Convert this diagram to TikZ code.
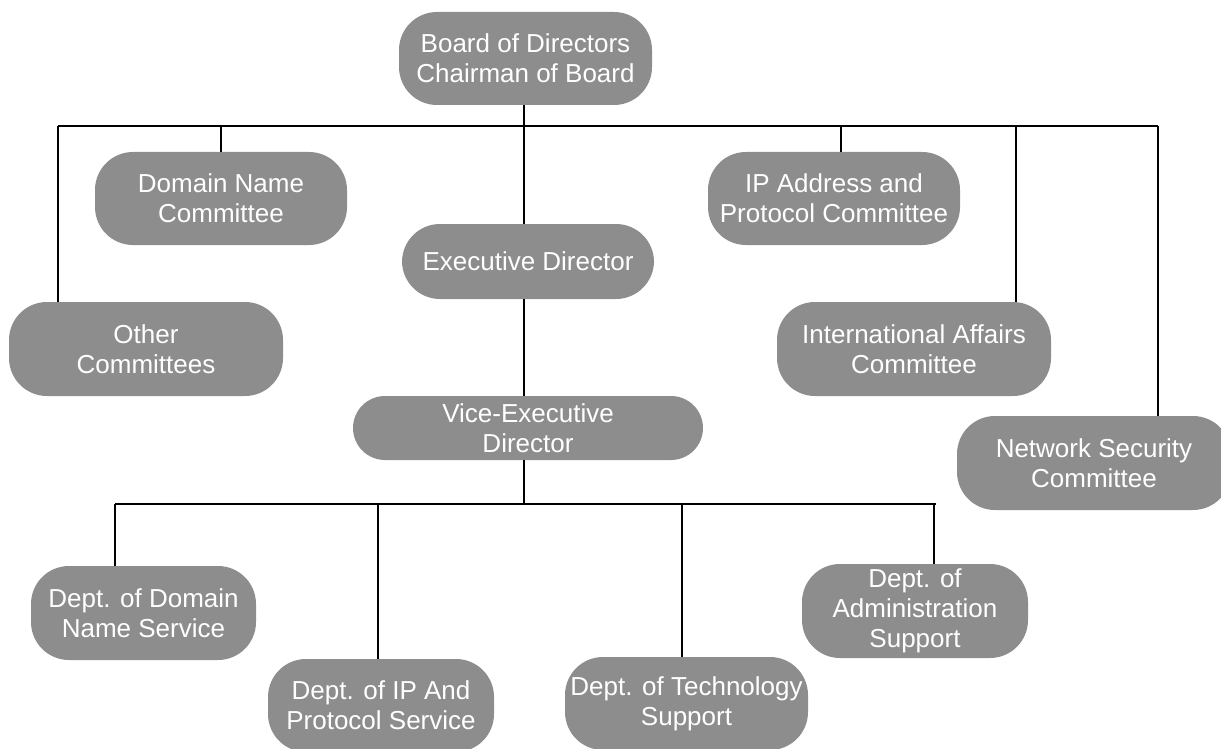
\documentclass[tikz,border=0pt]{standalone}
\usepackage{fontspec}
\setmainfont{Liberation Sans}
\definecolor{boxgray}{RGB}{141,141,141}
\begin{document}
\begin{tikzpicture}[x=1pt,y=-1pt,
  box/.style={fill=boxgray, rounded corners=38pt, inner sep=0pt, align=center,
    text=white, font=\fontsize{26}{30}\selectfont},
  conn/.style={draw=black, line width=1.3pt}]
\useasboundingbox (0,0) rectangle (1221,749);
% nodes
\node[box, minimum width=253, minimum height=93] (board) at (525.5,58.5) {Board of Directors\\Chairman of Board};
\node[box, minimum width=252, minimum height=93] (domain) at (221,198.5) {Domain Name\\Committee};
\node[box, minimum width=252, minimum height=93] (ipc) at (834,198.5) {IP Address and\\Protocol Committee};
\node[box, minimum width=252, minimum height=75] (exec) at (528,261.5) {Executive Director};
\node[box, minimum width=274, minimum height=94] (other) at (146,349) {Other\\Committees};
\node[box, minimum width=274, minimum height=94] (intl) at (914,349) {International Affairs\\Committee};
\node[box, minimum width=274, minimum height=94] (net) at (1094,463) {Network Security\\Committee};
\node[box, rounded corners=32pt, minimum width=350, minimum height=64] (vice) at (528,428) {Vice-Executive\\Director};
\node[box, minimum width=225, minimum height=94] (dd) at (143.5,613) {Dept. of Domain\\Name Service};
\node[box, minimum width=226, minimum height=93] (dip) at (381,705.5) {Dept. of IP And\\Protocol Service};
\node[box, minimum width=243, minimum height=93] (dtech) at (686.5,703.5) {Dept. of Technology\\Support};
\node[box, minimum width=226, minimum height=94] (dadm) at (915,611) {Dept. of\\Administration\\Support};
% top bar coordinates
\coordinate (tL) at (58,126);
\coordinate (tR) at (1158,126);
\coordinate (trunk) at (524,126);
\coordinate (tDom) at (221,126);
\coordinate (tIP) at (841,126);
\coordinate (tIntl) at (1016,126);
% bottom bar coordinates
\coordinate (bL) at (115,504);
\coordinate (bR) at (936,504);
\coordinate (bMid) at (524,504);
\coordinate (bIP) at (378,504);
\coordinate (bTech) at (682,504);
\coordinate (bAdm) at (934,504);
% connectors
\draw[conn] (tL) -- (tR);
\draw[conn] (trunk |- board.south) -- (trunk |- exec.north);
\draw[conn] (trunk |- exec.south) -- (trunk |- vice.north);
\draw[conn] (tL) -- (tL |- other.north);
\draw[conn] (tDom) -- (tDom |- domain.north);
\draw[conn] (tIP) -- (tIP |- ipc.north);
\draw[conn] (tIntl) -- (tIntl |- intl.north);
\draw[conn] (tR) -- (tR |- net.north);
\draw[conn] (bMid |- vice.south) -- (bMid);
\draw[conn] (bL) -- (bR);
\draw[conn] (bL) -- (bL |- dd.north);
\draw[conn] (bIP) -- (bIP |- dip.north);
\draw[conn] (bTech) -- (bTech |- dtech.north);
\draw[conn] (bAdm) -- (bAdm |- dadm.north);
\end{tikzpicture}
\end{document}
